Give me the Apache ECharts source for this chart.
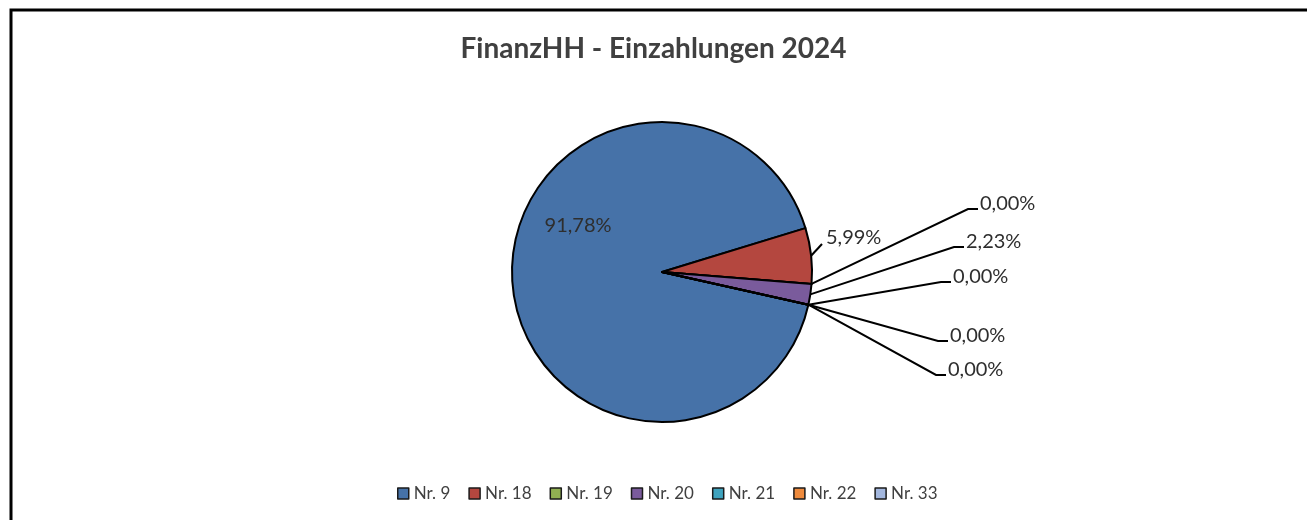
<!DOCTYPE html>
<html style="height: 100%">
<head>
    <meta charset="utf-8">
    <title>FinanzHH - Einzahlungen 2024</title>
</head>
<body style="height: 100%; margin: 0; background: #fff">
<div id="container" style="width:1307px;height:520px"></div>
<script type="text/javascript" src="https://cdn.jsdelivr.net/npm/echarts@6/dist/echarts.min.js"></script>
<script type="text/javascript">
var categories = ['Nr. 9', 'Nr. 18', 'Nr. 19', 'Nr. 20', 'Nr. 21', 'Nr. 22', 'Nr. 33'];
var shares = [91.78, 5.99, 0, 2.23, 0, 0, 0];
var colors = ['#4672A8', '#B4473F', '#91B052', '#7A5B9C', '#3FA3BE', '#EE8A3C', '#A3B7DE'];

// where the outside labels sit (left edge x, middle y), like Excel fanned them out
var labelSpots = [null, [826, 238], [980, 204], [966, 242], [953, 277], [950, 336], [948, 370]];

var total = 0;
for (var i = 0; i < shares.length; i++) total += shares[i];

function pct(v) {
    return (v / total * 100).toFixed(2).replace('.', ',') + '%';
}

var pieData = [];
for (var i = 0; i < categories.length; i++) {
    var item = {name: categories[i], value: shares[i]};
    if (i == 0) {
        item.label = {position: 'inside'};
        item.labelLine = {show: false};
    }
    pieData.push(item);
}

var myChart = echarts.init(document.getElementById('container'));
var option = {
    color: colors,
    animation: false,
    title: {
        text: 'FinanzHH - Einzahlungen 2024',
        left: 'center',
        top: 30,
        textStyle: {
            fontFamily: 'Lato',
            fontSize: 28,
            fontWeight: 'bold',
            color: '#404040'
        }
    },
    legend: {
        bottom: 13,
        left: 392,
        itemWidth: 11,
        itemHeight: 11,
        itemGap: 18,
        icon: 'rect',
        itemStyle: {borderColor: '#1a1a1a', borderWidth: 1.5},
        textStyle: {fontFamily: 'Lato', fontSize: 17, color: '#404040'},
        data: categories
    },
    graphic: [{
        type: 'rect',
        shape: {x: 11, y: 10, width: 1400, height: 600},
        style: {fill: 'none', stroke: '#000', lineWidth: 3},
        silent: true
    }],
    series: [{
        type: 'pie',
        center: [662, 272],
        radius: 150,
        startAngle: -12.6,
        clockwise: true,
        avoidLabelOverlap: false,
        data: pieData,
        itemStyle: {borderColor: '#000', borderWidth: 2},
        label: {
            formatter: function (p) { return pct(p.value); },
            fontFamily: 'Lato',
            fontSize: 20,
            color: '#2e2e2e'
        },
        labelLine: {length: 10, length2: 10, lineStyle: {color: '#000', width: 2}},
        emphasis: {disabled: true},
        labelLayout: function (params) {
            var i = params.dataIndex;
            if (i == 0) {
                return {dx: -6, dy: -49};
            }
            var spot = labelSpots[i];
            var p0 = params.labelLinePoints ? params.labelLinePoints[0] : [812, 290];
            var pts;
            if (i == 1) {
                pts = [p0, [spot[0] - 4, spot[1] + 6]];
            } else {
                pts = [p0, [spot[0] - 12, spot[1] + 5], [spot[0] - 2, spot[1] + 5]];
            }
            return {
                x: spot[0],
                y: spot[1],
                align: 'left',
                verticalAlign: 'middle',
                labelLinePoints: pts
            };
        }
    }]
};
myChart.setOption(option);
</script>
</body>
</html>
